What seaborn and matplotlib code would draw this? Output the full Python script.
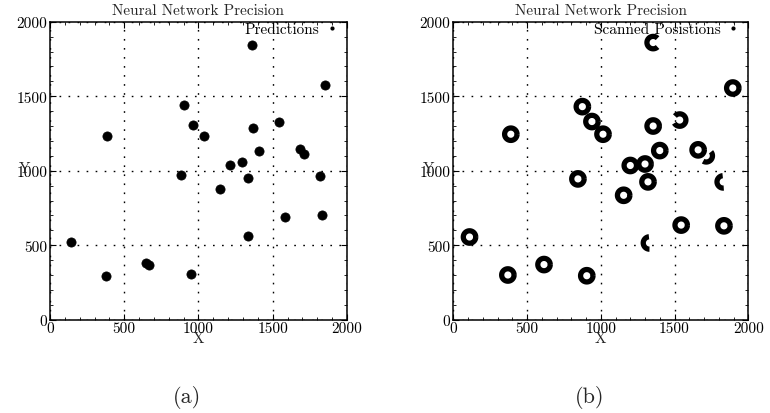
import numpy as np
import pandas as pd
import matplotlib
matplotlib.use("Agg")
import matplotlib.pyplot as plt
from matplotlib.path import Path
from matplotlib.markers import MarkerStyle
from matplotlib.lines import Line2D
from matplotlib.ticker import MultipleLocator, AutoMinorLocator
import seaborn as sns

# Network output: predicted particle positions
pred_x = [1360, 1855, 900, 965, 1035, 385, 1365, 1540, 1405, 1685, 1710, 1210,
          1295, 885, 1335, 1145, 1820, 1580, 1830, 1335, 140, 375, 650, 670, 950]
pred_y = [1845, 1575, 1440, 1310, 1235, 1235, 1290, 1330, 1135, 1145, 1110, 1035,
          1060, 970, 950, 875, 965, 690, 700, 560, 520, 295, 380, 370, 305]

# Reference: positions recovered by scanning
scan_x = [1355, 1895, 875, 940, 1015, 390, 1355, 1535, 1400, 1660, 1715, 1200,
          1300, 845, 1320, 1155, 1830, 1545, 1835, 1330, 110, 370, 615, 905]
scan_y = [1860, 1555, 1430, 1330, 1245, 1245, 1300, 1340, 1135, 1140, 1100, 1035,
          1045, 945, 925, 835, 925, 635, 630, 515, 555, 300, 370, 295]

ticks = [0, 500, 1000, 1500, 2000]
panel_titles = ["Neural Network Precision", "Neural Network Precision"]
legend_labels = ["Predictions", "Scanned Posistions"]
captions = ["(a)", "(b)"]

# Incomplete rings (arc start/end angles in degrees), keyed by scan index
partial_arcs = {0: (45, 315), 7: (-150, 140), 10: (-120, 40), 16: (95, 275), 19: (95, 270)}

sns.set_theme(style="white")
plt.rcParams["font.family"] = ["cmr10", "DejaVu Serif"]
plt.rcParams["mathtext.fontset"] = "cm"
plt.rcParams["axes.formatter.use_mathtext"] = True
plt.rcParams["axes.unicode_minus"] = False

FS = 11


def ring_path(t1=0, t2=360):
    """Open or closed arc on the unit circle, usable as a marker."""
    anchors = [(1, 0), (0, 1), (-1, 0), (0, -1)]
    t = np.radians(np.linspace(t1, t2, 72))
    arc = list(zip(np.cos(t), np.sin(t)))
    verts = anchors + arc
    codes = [Path.MOVETO] * 4 + [Path.MOVETO] + [Path.LINETO] * (len(arc) - 1)
    return MarkerStyle(Path(verts, codes))


def style_axes(ax, title, label):
    ax.set_xlim(0, 2000)
    ax.set_ylim(0, 2000)
    ax.xaxis.set_minor_locator(AutoMinorLocator(5))
    ax.yaxis.set_minor_locator(AutoMinorLocator(5))
    ax.set_xticks(ticks)
    ax.set_yticks(ticks)
    ax.set_xticklabels([str(t) for t in ticks])
    ax.set_yticklabels([str(t) for t in ticks])
    ax.xaxis.set_minor_locator(MultipleLocator(100))
    ax.yaxis.set_minor_locator(MultipleLocator(100))
    ax.tick_params(which="both", direction="in", top=True, right=True,
                   bottom=True, left=True, colors="black", labelsize=FS)
    ax.tick_params(which="major", length=4, width=0.8)
    ax.tick_params(which="minor", length=2.5, width=0.6)
    ax.tick_params(axis="x", pad=1)
    ax.tick_params(axis="y", pad=2)
    for s in ax.spines.values():
        s.set_color("black")
        s.set_linewidth(1.1)
    ax.grid(True, which="major", color="black", linestyle=(0, (1.2, 5.3)), linewidth=1.0)
    ax.set_axisbelow(True)
    ax.set_title(title, fontsize=FS, pad=5.5)
    ax.set_xlabel("X", fontsize=FS)
    ax.set_ylabel("Y", fontsize=FS, rotation=0, va="center", ha="center")
    ax.xaxis.set_label_coords(0.5, -0.04)
    ax.yaxis.set_label_coords(-0.085, 0.51)
    handle = Line2D([], [], linestyle="none", marker="o", markersize=3,
                    color="black", markeredgewidth=0)
    leg = ax.legend([handle], [label], loc="upper right", bbox_to_anchor=(0.975, 0.998),
                    frameon=False, markerfirst=False, fontsize=FS, borderpad=0,
                    borderaxespad=0, handlelength=1.0, handletextpad=0.3)
    for t in leg.get_texts():
        t.set_color("black")


fig = plt.figure(figsize=(7.7, 4.14), dpi=100)
ax1 = fig.add_axes([0.0649, 0.2254, 0.3857, 0.7197])
ax2 = fig.add_axes([0.5887, 0.2254, 0.3831, 0.7197])

pred = pd.DataFrame({"x": pred_x, "y": pred_y})
sns.scatterplot(data=pred, x="x", y="y", ax=ax1, color="black", s=44,
                marker="o", edgecolor="black", linewidth=0.5, legend=False, zorder=3)
style_axes(ax1, panel_titles[0], legend_labels[0])

scan = pd.DataFrame({"x": scan_x, "y": scan_y})
full = scan.drop(index=list(partial_arcs))
ring_kw = dict(s=80, color="black", facecolor="none", edgecolor="black",
               linewidth=3.8, legend=False, zorder=3)
sns.scatterplot(data=full, x="x", y="y", ax=ax2, marker=ring_path(), **ring_kw)
for idx, (a1, a2) in partial_arcs.items():
    sns.scatterplot(data=scan.loc[[idx]], x="x", y="y", ax=ax2,
                    marker=ring_path(a1, a2), **ring_kw)
style_axes(ax2, panel_titles[1], legend_labels[1])

fig.text(187 / 770, 0.039, captions[0], ha="center", va="center", fontsize=16)
fig.text(590 / 770, 0.039, captions[1], ha="center", va="center", fontsize=16)

fig.savefig("out.png", dpi=100)
